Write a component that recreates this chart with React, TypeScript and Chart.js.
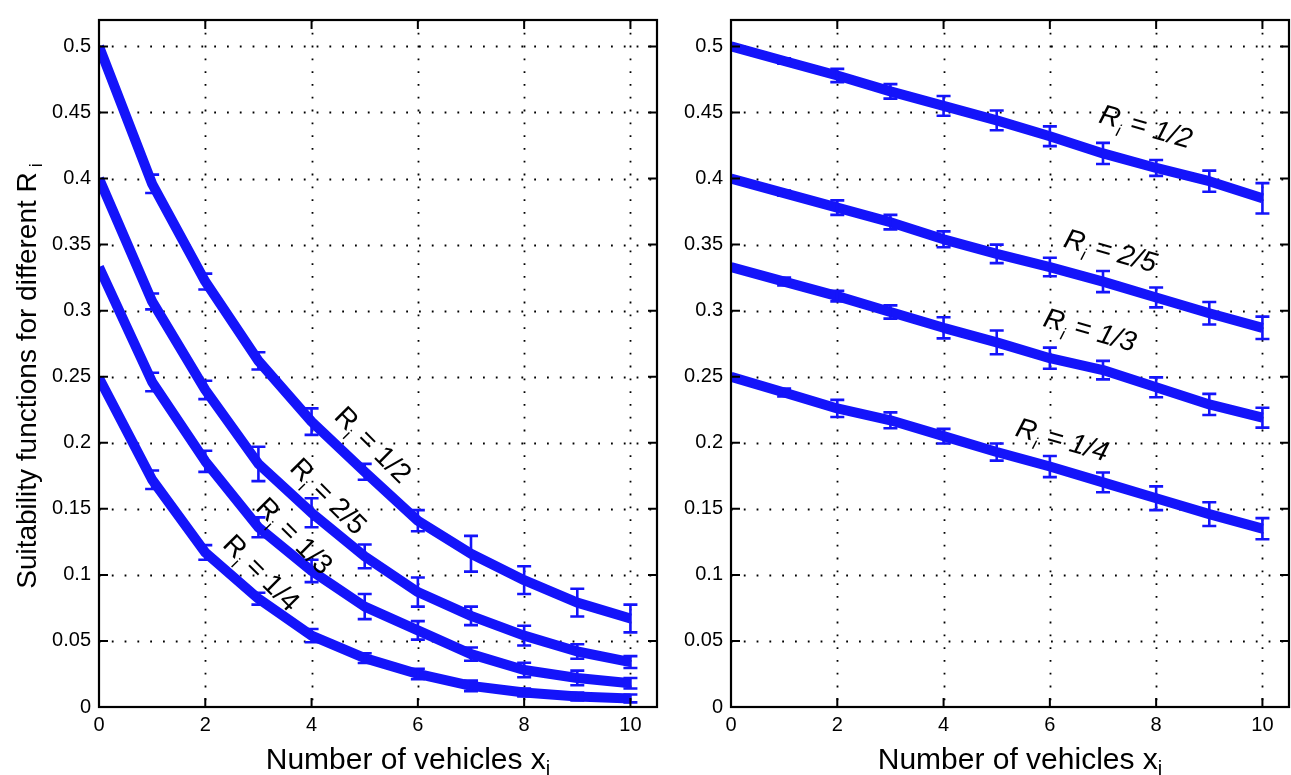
import React, { useEffect, useRef } from 'react';
import { Chart, registerables } from 'chart.js';

Chart.register(...registerables);

// ---------- data ----------
const xValues = [0, 1, 2, 3, 4, 5, 6, 7, 8, 9, 10];
const xTickValues = [0, 2, 4, 6, 8, 10];
const xTickLabels = ['0', '2', '4', '6', '8', '10'];
const yTickValues = [0, 0.05, 0.1, 0.15, 0.2, 0.25, 0.3, 0.35, 0.4, 0.45, 0.5];
const yTickLabels = ['0', '0.05', '0.1', '0.15', '0.2', '0.25', '0.3', '0.35', '0.4', '0.45', '0.5'];
const seriesNames = ['1/2', '2/5', '1/3', '1/4'];

// left panel
const leftHalf = [0.5, 0.396, 0.322, 0.262, 0.216, 0.178, 0.141, 0.116, 0.096, 0.079, 0.067];
const leftHalfErr = [0, 0.007, 0.006, 0.0065, 0.01, 0.006, 0.008, 0.0135, 0.0105, 0.0105, 0.0105];
const leftTwoFifth = [0.4, 0.307, 0.24, 0.184, 0.147, 0.114, 0.087, 0.069, 0.054, 0.042, 0.034];
const leftTwoFifthErr = [0, 0.006, 0.007, 0.013, 0.011, 0.009, 0.011, 0.007, 0.0075, 0.0055, 0.0045];
const leftThird = [0.333, 0.246, 0.186, 0.136, 0.103, 0.076, 0.058, 0.04, 0.028, 0.022, 0.018];
const leftThirdErr = [0, 0.007, 0.008, 0.0075, 0.0085, 0.0095, 0.007, 0.005, 0.0055, 0.0055, 0.004];
const leftQuarter = [0.249, 0.172, 0.117, 0.082, 0.054, 0.037, 0.025, 0.016, 0.011, 0.008, 0.0065];
const leftQuarterErr = [0, 0.007, 0.0055, 0.0045, 0.005, 0.0037, 0.004, 0.004, 0.003, 0.003, 0.003];

// right panel
const rightHalf = [0.5, 0.489, 0.478, 0.466, 0.455, 0.444, 0.432, 0.419, 0.408, 0.398, 0.385];
const rightHalfErr = [0, 0.002, 0.005, 0.0055, 0.0075, 0.0075, 0.0075, 0.008, 0.006, 0.008, 0.0115];
const rightTwoFifth = [0.4, 0.389, 0.378, 0.367, 0.354, 0.343, 0.333, 0.322, 0.31, 0.298, 0.287];
const rightTwoFifthErr = [0, 0.002, 0.0055, 0.0055, 0.006, 0.007, 0.007, 0.008, 0.0075, 0.0085, 0.0085];
const rightThird = [0.333, 0.322, 0.311, 0.299, 0.287, 0.276, 0.264, 0.255, 0.242, 0.229, 0.219];
const rightThirdErr = [0, 0.003, 0.004, 0.005, 0.008, 0.009, 0.008, 0.007, 0.0075, 0.008, 0.0075];
const rightQuarter = [0.25, 0.238, 0.226, 0.217, 0.205, 0.193, 0.182, 0.17, 0.158, 0.146, 0.135];
const rightQuarterErr = [0, 0.003, 0.0065, 0.006, 0.0055, 0.0065, 0.008, 0.0075, 0.009, 0.009, 0.008];

// annotation anchors (data units)
const leftLabelX = [5.17, 4.33, 3.69, 3.07];
const leftLabelY = [0.199, 0.16, 0.13, 0.102];
const rightLabelX = [7.81, 7.15, 6.76, 6.24];
const rightLabelY = [0.44, 0.346, 0.286, 0.203];

const yTitleText = 'Suitability functions for different R';
const xTitleText = 'Number of vehicles x';

// ---------- styling ----------
const BLUE = 'rgb(20,20,250)';
const FONT = '"Liberation Sans", Arial, Helvetica, sans-serif';

type Piece = { text: string; font: string; dy: number };

function drawPieces(ctx: CanvasRenderingContext2D, pieces: Piece[], cx: number, cy: number, angle: number, capShift: number) {
  ctx.save();
  ctx.translate(cx, cy);
  ctx.rotate(angle);
  let total = 0;
  const widths = pieces.map((p) => {
    ctx.font = p.font;
    const w = ctx.measureText(p.text).width;
    total += w;
    return w;
  });
  let x = -total / 2;
  ctx.fillStyle = '#000';
  ctx.textBaseline = 'alphabetic';
  ctx.textAlign = 'left';
  pieces.forEach((p, i) => {
    ctx.font = p.font;
    ctx.fillText(p.text, x, capShift + p.dy);
    x += widths[i];
  });
  ctx.restore();
}

function labelPieces(name: string, size: number, italic: boolean): Piece[] {
  const st = italic ? 'italic ' : '';
  return [
    { text: 'R', font: `${st}${size}px ${FONT}`, dy: 0 },
    { text: 'i', font: `${st}${Math.round(size * 0.62)}px ${FONT}`, dy: size * 0.28 },
    { text: ' = ' + name, font: `${st}${size}px ${FONT}`, dy: 0 },
  ];
}

type PanelCfg = {
  labelX: number[];
  labelY: number[];
  labelAngle: number;
  labelItalic: boolean;
  labelSize: number;
  xTitleCx: number;
  showYTitle: boolean;
};

function makePlugin(cfg: PanelCfg) {
  return {
    id: 'matlabLook',
    beforeDatasetsDraw(chart: any) {
      const { ctx, chartArea: a, scales } = chart;
      ctx.save();
      ctx.strokeStyle = '#000';
      ctx.lineWidth = 1.8;
      ctx.setLineDash([1.8, 11]);
      xTickValues.forEach((v) => {
        if (v === 0) return;
        const px = Math.round(scales.x.getPixelForValue(v)) + 0.5;
        ctx.beginPath();
        ctx.moveTo(px, a.top);
        ctx.lineTo(px, a.bottom);
        ctx.stroke();
      });
      yTickValues.forEach((v) => {
        if (v === 0) return;
        const py = Math.round(scales.y.getPixelForValue(v)) + 0.5;
        ctx.beginPath();
        ctx.moveTo(a.left, py);
        ctx.lineTo(a.right, py);
        ctx.stroke();
      });
      ctx.restore();
    },
    afterDatasetsDraw(chart: any) {
      const { ctx, chartArea: a, scales } = chart;
      // error bars
      ctx.save();
      ctx.strokeStyle = BLUE;
      ctx.lineWidth = 2.6;
      chart.data.datasets.forEach((ds: any) => {
        const errs: number[] = ds.errors || [];
        ds.data.forEach((pt: any, i: number) => {
          const e = errs[i];
          if (!e) return;
          const px = scales.x.getPixelForValue(pt.x);
          const y1 = scales.y.getPixelForValue(pt.y - e);
          const y2 = scales.y.getPixelForValue(pt.y + e);
          ctx.beginPath();
          ctx.moveTo(px, y1);
          ctx.lineTo(px, y2);
          ctx.moveTo(px - 7, y1);
          ctx.lineTo(px + 7, y1);
          ctx.moveTo(px - 7, y2);
          ctx.lineTo(px + 7, y2);
          ctx.stroke();
        });
      });
      ctx.restore();

      // frame and inner ticks
      ctx.save();
      ctx.strokeStyle = '#000';
      ctx.lineWidth = 2.2;
      ctx.strokeRect(a.left, a.top, a.right - a.left, a.bottom - a.top);
      ctx.lineWidth = 2;
      const tl = 9;
      xTickValues.forEach((v) => {
        const px = scales.x.getPixelForValue(v);
        ctx.beginPath();
        ctx.moveTo(px, a.bottom);
        ctx.lineTo(px, a.bottom - tl);
        ctx.moveTo(px, a.top);
        ctx.lineTo(px, a.top + tl);
        ctx.stroke();
      });
      yTickValues.forEach((v) => {
        const py = scales.y.getPixelForValue(v);
        ctx.beginPath();
        ctx.moveTo(a.left, py);
        ctx.lineTo(a.left + tl, py);
        ctx.moveTo(a.right, py);
        ctx.lineTo(a.right - tl, py);
        ctx.stroke();
      });
      ctx.restore();

      // curve annotations
      seriesNames.forEach((name, i) => {
        const cx = scales.x.getPixelForValue(cfg.labelX[i]);
        const cy = scales.y.getPixelForValue(cfg.labelY[i]);
        drawPieces(ctx, labelPieces(name, cfg.labelSize, cfg.labelItalic), cx, cy, cfg.labelAngle, cfg.labelSize * 0.36);
      });

      // axis titles
      const xt: Piece[] = [
        { text: xTitleText, font: `30px ${FONT}`, dy: 0 },
        { text: 'i', font: `20px ${FONT}`, dy: 6 },
      ];
      drawPieces(ctx, xt, cfg.xTitleCx, 758, 0, 11);
      if (cfg.showYTitle) {
        const yt: Piece[] = [
          { text: yTitleText, font: `28px ${FONT}`, dy: 0 },
          { text: ' i', font: `18px ${FONT}`, dy: 6 },
        ];
        drawPieces(ctx, yt, 26, 376, -Math.PI / 2, 10);
      }
    },
  };
}

function buildDatasets(series: number[][], errs: number[][]) {
  return series.map((vals, s) => ({
    label: 'R_i = ' + seriesNames[s],
    data: xValues.map((x, i) => ({ x, y: vals[i] })),
    errors: errs[s],
    borderColor: BLUE,
    backgroundColor: BLUE,
    borderWidth: 10,
    pointRadius: 0,
    tension: 0,
    fill: false,
    borderJoinStyle: 'round' as const,
  }));
}

function makeConfig(series: number[][], errs: number[][], yAxisWidth: number, padRight: number, cfg: PanelCfg) {
  return {
    type: 'line' as const,
    data: { datasets: buildDatasets(series, errs) },
    options: {
      animation: false as const,
      responsive: false,
      devicePixelRatio: 1,
      layout: { padding: { top: 12, right: padRight, left: 0, bottom: 0 } },
      plugins: { legend: { display: false }, tooltip: { enabled: false }, title: { display: false } },
      scales: {
        x: {
          type: 'linear' as const,
          min: 0,
          max: 10.5,
          grid: { display: false, drawTicks: false },
          border: { display: false },
          afterBuildTicks: (scale: any) => {
            scale.ticks = xTickValues.map((v) => ({ value: v }));
          },
          afterFit: (scale: any) => {
            scale.height = 68;
          },
          ticks: {
            autoSkip: false,
            maxRotation: 0,
            padding: 6,
            color: '#000',
            font: { family: FONT, size: 20 },
            callback: (v: any) => {
              const idx = xTickValues.indexOf(Number(v));
              return idx >= 0 ? xTickLabels[idx] : '';
            },
          },
        },
        y: {
          type: 'linear' as const,
          min: 0,
          max: 0.52,
          grid: { display: false, drawTicks: false },
          border: { display: false },
          afterBuildTicks: (scale: any) => {
            scale.ticks = yTickValues.map((v) => ({ value: v }));
          },
          afterFit: (scale: any) => {
            scale.width = yAxisWidth;
          },
          ticks: {
            autoSkip: false,
            padding: 8,
            color: '#000',
            font: { family: FONT, size: 20 },
            callback: (v: any) => {
              const idx = yTickValues.findIndex((t) => Math.abs(t - Number(v)) < 1e-9);
              return idx >= 0 ? yTickLabels[idx] : '';
            },
          },
        },
      },
    },
    plugins: [makePlugin(cfg)],
  };
}

export default function App() {
  const leftRef = useRef<HTMLCanvasElement | null>(null);
  const rightRef = useRef<HTMLCanvasElement | null>(null);

  useEffect(() => {
    document.body.style.margin = '0';
    const left = new Chart(
      leftRef.current as HTMLCanvasElement,
      makeConfig(
        [leftHalf, leftTwoFifth, leftThird, leftQuarter],
        [leftHalfErr, leftTwoFifthErr, leftThirdErr, leftQuarterErr],
        99,
        3,
        {
          labelX: leftLabelX,
          labelY: leftLabelY,
          labelAngle: (45 * Math.PI) / 180,
          labelItalic: false,
          labelSize: 28,
          xTitleCx: 408,
          showYTitle: true,
        }
      ) as any
    );
    const right = new Chart(
      rightRef.current as HTMLCanvasElement,
      makeConfig(
        [rightHalf, rightTwoFifth, rightThird, rightQuarter],
        [rightHalfErr, rightTwoFifthErr, rightThirdErr, rightQuarterErr],
        71,
        2,
        {
          labelX: rightLabelX,
          labelY: rightLabelY,
          labelAngle: (16 * Math.PI) / 180,
          labelItalic: true,
          labelSize: 28,
          xTitleCx: 360,
          showYTitle: false,
        }
      ) as any
    );
    return () => {
      left.destroy();
      right.destroy();
    };
  }, []);

  return (
    <div style={{ position: 'absolute', left: 0, top: 0, width: 1291, height: 775, background: '#fff', overflow: 'hidden' }}>
      <canvas ref={leftRef} width={660} height={775} style={{ position: 'absolute', left: 0, top: 0, width: 660, height: 775 }} />
      <canvas ref={rightRef} width={631} height={775} style={{ position: 'absolute', left: 660, top: 0, width: 631, height: 775 }} />
    </div>
  );
}
